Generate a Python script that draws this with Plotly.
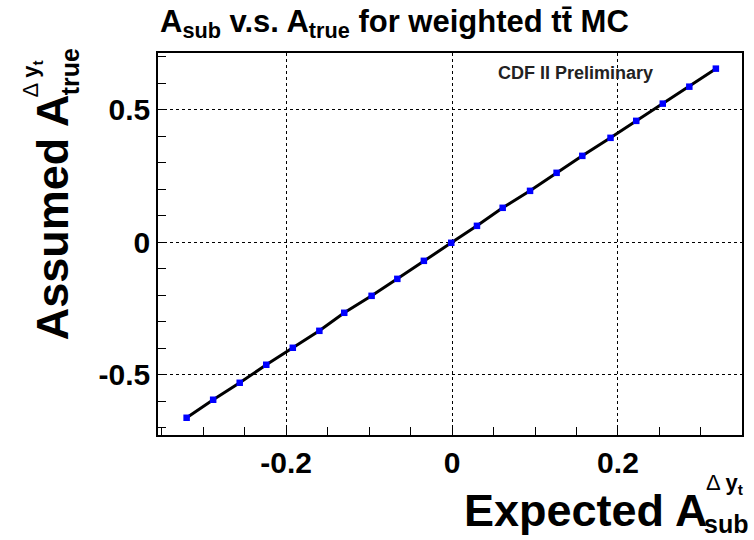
import plotly.graph_objects as go

# Expected (subtracted) asymmetry vs assumed true asymmetry, weighted ttbar MC
a_sub = [-0.320, -0.288, -0.256, -0.224, -0.192, -0.160, -0.130, -0.097, -0.066, -0.034,
         -0.001, 0.030, 0.061, 0.094, 0.126, 0.157, 0.191, 0.222, 0.254, 0.286, 0.318]
a_true = [-0.662, -0.594, -0.530, -0.462, -0.398, -0.334, -0.266, -0.202, -0.138, -0.070,
          -0.002, 0.062, 0.130, 0.194, 0.262, 0.326, 0.394, 0.458, 0.523, 0.587, 0.655]

x_ticks = [-0.2, 0, 0.2]
x_tick_text = ["-0.2", "0", "0.2"]
y_ticks = [-0.5, 0, 0.5]
y_tick_text = ["-0.5", "0", "0.5"]

W, H = 754, 540
L, R, T, B = 158, 10, 53, 105
PW, PH = W - L - R, H - T - B


def paper(px, py):
    """Convert page pixels to paper coordinates."""
    return (px - L) / PW, (H - B - py) / PH


FONT = "Liberation Sans, Arial, Helvetica, sans-serif"

fig = go.Figure()

# fitted line through the points
fig.add_trace(go.Scatter(
    x=a_sub, y=a_true, mode="lines",
    line=dict(color="black", width=3),
    hoverinfo="skip", showlegend=False,
))
# MC points
fig.add_trace(go.Scatter(
    x=a_sub, y=a_true, mode="markers",
    marker=dict(symbol="square", size=6.5, color="#0000ff", line=dict(width=0)),
    showlegend=False,
))

axis_common = dict(
    showline=True, linecolor="black", linewidth=1.5, mirror=True,
    ticks="inside", ticklen=8, tickcolor="black", tickwidth=1,
    showgrid=True, gridcolor="black", gridwidth=1, griddash="dot",
    zeroline=False,
    tickfont=dict(family=FONT, size=30, color="black", weight="bold"),
)

fig.update_xaxes(
    range=[-0.3545, 0.3495],
    tickvals=x_ticks, ticktext=x_tick_text,
    minor=dict(dtick=0.05, tick0=0, ticks="inside", ticklen=8, tickcolor="black", showgrid=False),
    **axis_common,
)
fig.update_yaxes(
    range=[-0.727, 0.714],
    tickvals=y_ticks, ticktext=y_tick_text,
    minor=dict(dtick=0.1, tick0=0, ticks="inside", ticklen=8, tickcolor="black", showgrid=False),
    **axis_common,
)

annotations = []


def label(px, py, text, size, xanchor="center", angle=0):
    x, y = paper(px, py)
    annotations.append(dict(x=x, y=y, xref="paper", yref="paper", xanchor=xanchor,
                            yanchor="middle", text=text, textangle=angle, showarrow=False,
                            font=dict(family=FONT, size=size, color="black")))


# x axis title: Expected A with stacked super/subscript
label(711, 510, "<b>Expected A</b>", 45, xanchor="right")
label(706, 484, "Δ <b>y<sub>t</sub></b>", 22, xanchor="left")
label(752, 524, "<b>sub</b>", 25, xanchor="right")

# y axis title: Assumed A with stacked super/subscript
label(52, 217, "<b>Assumed A</b>", 45, angle=-90)
label(32, 79, "Δ <b>y<sub>t</sub></b>", 22, angle=-90)
label(70, 72, "<b>true</b>", 25, angle=-90)

# preliminary label
x, y = paper(497, 73)
annotations.append(dict(x=x, y=y, xref="paper", yref="paper", xanchor="left", yanchor="middle",
                        text="<b>CDF II Preliminary</b>", showarrow=False,
                        font=dict(family=FONT, size=18, color="#222222")))

fig.update_layout(
    width=W, height=H,
    margin=dict(l=L, r=R, t=T, b=B),
    paper_bgcolor="white", plot_bgcolor="white",
    title=dict(
        text="<b>A<sub>sub</sub> v.s. A<sub>true</sub> for weighted tt̄ MC</b>",
        x=160 / W, xanchor="left", y=1 - 21 / H, yanchor="middle",
        font=dict(family=FONT, size=31, color="black"),
    ),
    annotations=annotations,
)

fig.write_html("out.html")
